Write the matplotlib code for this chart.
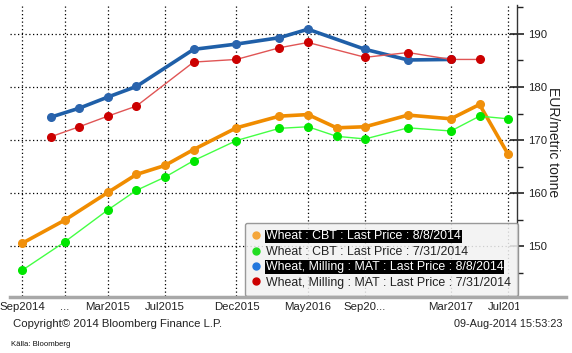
import matplotlib
matplotlib.use("Agg")
import matplotlib.pyplot as plt
from matplotlib.lines import Line2D
from matplotlib.transforms import Bbox, TransformedBbox

plt.rcParams['font.family'] = ['Liberation Sans', 'DejaVu Sans']

# months after Sep 2014
cbt_x = [0, 3, 6, 8, 10, 12, 15, 18, 20, 22, 24, 27, 30, 32, 34]
cbt_aug8 = [150.5, 154.9, 160.1, 163.5, 165.2, 168.2, 172.3, 174.5, 174.8, 172.3, 172.5, 174.7, 174.0, 176.7, 167.3]
cbt_jul31 = [145.4, 150.8, 156.8, 160.5, 163.0, 166.1, 169.9, 172.2, 172.5, 170.7, 170.2, 172.3, 171.7, 174.5, 174.0]

mat_x_aug8 = [2, 4, 6, 8, 12, 15, 18, 20, 24, 27, 30]
mat_aug8 = [174.3, 176.0, 178.1, 180.1, 187.1, 188.1, 189.3, 190.9, 187.1, 185.1, 185.2]
mat_x_jul31 = [2, 4, 6, 8, 12, 15, 18, 20, 24, 27, 30, 32]
mat_jul31 = [170.6, 172.5, 174.5, 176.4, 184.7, 185.2, 187.4, 188.4, 185.6, 186.5, 185.2, 185.2]

xtick_pos = [0, 3, 6, 10, 15, 20, 24, 30, 34]
xtick_labels = ['Sep2014', '...', 'Mar2015', 'Jul2015', 'Dec2015', 'May2016', 'Sep20...', 'Mar2017', 'Jul2017']
ytick_vals = [150, 160, 170, 180, 190]
minor_vals = [145, 155, 165, 175, 185, 195]

labels = ['Wheat : CBT : Last Price : 8/8/2014',
          'Wheat : CBT : Last Price : 7/31/2014',
          'Wheat, Milling : MAT : Last Price : 8/8/2014',
          'Wheat, Milling : MAT : Last Price : 7/31/2014']

W, H = 572, 353
fig = plt.figure(figsize=(W / 100, H / 100), dpi=100)
ax = fig.add_axes([10 / W, 1 - 296 / H, 507 / W, 291 / H])

ax.plot(cbt_x, cbt_aug8, color='#f08c00', lw=2.6, marker='o', ms=5.5,
        mfc='#f0900c', mec='#f0900c', zorder=3)
ax.plot(cbt_x, cbt_jul31, color='#44ff44', lw=1.0, marker='o', ms=5.5,
        mfc='#00e600', mec='#00e600', zorder=3)
ax.plot(mat_x_aug8, mat_aug8, color='#1f5fa8', lw=2.6, marker='o', ms=5.5,
        mfc='#2a64ad', mec='#2a64ad', zorder=3)
ax.plot(mat_x_jul31, mat_jul31, color='#e05555', lw=1.0, marker='o', ms=5.5,
        mfc='#cc0000', mec='#cc0000', zorder=3)

ax.set_xlim(-0.84, 34.62)
ax.set_ylim(140.57, 195.47)

ax.set_xticks(xtick_pos)
ax.set_xticklabels(xtick_labels, fontsize=8.2)
ax.tick_params(axis='x', length=0, pad=4, colors='#222222')

ax.yaxis.tick_right()
ax.set_yticks(ytick_vals)
ax.set_yticklabels([str(v) for v in ytick_vals], fontsize=8.2)
ax.set_yticks(minor_vals, minor=True)
ax.tick_params(axis='y', which='major', direction='inout', length=10, width=1.2,
               pad=3, colors='#222222')
ax.tick_params(axis='y', which='minor', direction='out', length=4, width=1,
               colors='#222222')

ax.grid(True, which='major', color='black', linestyle=(0, (1, 2)), lw=0.9)
for s in ['left', 'top', 'bottom']:
    ax.spines[s].set_visible(False)
ax.spines['right'].set_color('#333333')
ax.spines['right'].set_linewidth(1)

# clip last x tick label at the right spine
clipbox = TransformedBbox(Bbox([[0, 0], [519 / W, 1]]), fig.transFigure)
for lbl in ax.get_xticklabels():
    lbl.set_clip_box(clipbox)
    lbl.set_clip_on(True)

# bottom gray bar
fig.add_artist(Line2D([10 / W, 566 / W], [1 - 296.5 / H, 1 - 296.5 / H],
                      transform=fig.transFigure, color='#a8a8a8', lw=2.5))

fig.text(553 / W, 1 - 142 / H, 'EUR/metric tonne', rotation=270,
         ha='center', va='center', fontsize=10, color='#222222')

# legend
leg_colors = ['#f5a63a', '#22dd22', '#2277dd', '#cc0000']
handles = [Line2D([], [], ls='none', marker='o', ms=5, mfc=c, mec=c) for c in leg_colors]
leg = ax.legend(handles, labels, loc='upper left', bbox_to_anchor=(0.4635, 0.251),
                fontsize=8.9, frameon=True, fancybox=True, framealpha=0.85,
                facecolor='#f2f2f2', edgecolor='#888888', handlelength=0.6,
                handletextpad=0.5, labelspacing=0.28, borderpad=0.6,
                borderaxespad=0)
leg.get_frame().set_linewidth(1)
for i, t in enumerate(leg.get_texts()):
    t.set_color('#222222')
    if i in (0, 2):
        t.set_color('white')
        t.set_bbox(dict(facecolor='black', edgecolor='none', pad=0.6))

fig.text(13 / W, 1 - 324 / H, 'Copyright\u00a9 2014 Bloomberg Finance L.P.',
         ha='left', va='center', fontsize=8.2, color='#222222')
fig.text(563 / W, 1 - 324 / H, '09-Aug-2014 15:53:23',
         ha='right', va='center', fontsize=7.8, color='#222222')
fig.text(11 / W, 1 - 345 / H, 'K\u00e4lla: Bloomberg',
         ha='left', va='center', fontsize=5.6, color='#111111')

fig.savefig('out.png', dpi=100)
